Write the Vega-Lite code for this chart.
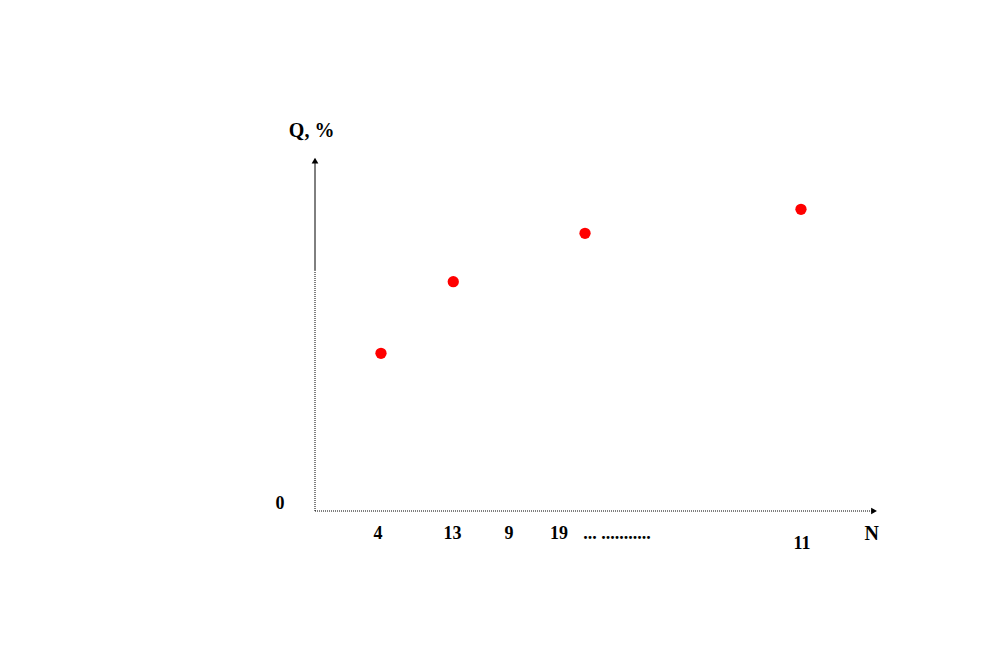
{
  "$schema": "https://vega.github.io/schema/vega-lite/v6.json",
  "width": 563,
  "height": 354,
  "autosize": {"type": "none"},
  "padding": {"left": 315, "top": 157, "right": 114, "bottom": 144},
  "background": "white",
  "config": {"view": {"stroke": null}},
  "datasets": {
    "points": [
      {"n": 11.72, "q": 44.55},
      {"n": 24.56, "q": 64.77},
      {"n": 47.96, "q": 78.45},
      {"n": 86.32, "q": 85.23}
    ],
    "xaxis": [{"x": 0, "x2": 99.2, "y": 0}],
    "yaxisSolid": [{"x": 0, "y": 68, "y2": 98.3}],
    "yaxisDotted": [{"x": 0, "y": 0, "y2": 68}],
    "arrows": [
      {"x": 99.3, "y": 0, "shape": "triangle-right"},
      {"x": 0, "y": 99.0, "shape": "triangle-up"}
    ],
    "ticklabels": [
      {"text": "4", "x": 11.19, "y": -6.4},
      {"text": "13", "x": 24.42, "y": -6.4},
      {"text": "9", "x": 34.46, "y": -6.4},
      {"text": "19", "x": 43.34, "y": -6.4},
      {"text": "... ...........", "x": 53.64, "y": -6.4},
      {"text": "11", "x": 86.5, "y": -9.2},
      {"text": "0", "x": -6.2, "y": 2.0}
    ],
    "titles": [
      {"text": "Q, %", "x": -0.6, "y": 107.3, "size": 20},
      {"text": "N", "x": 98.9, "y": -6.6, "size": 20}
    ]
  },
  "layer": [
    {
      "data": {"name": "xaxis"},
      "mark": {"type": "rule", "color": "black", "strokeWidth": 1, "strokeDash": [1, 1]},
      "encoding": {
        "x": {"field": "x", "type": "quantitative", "scale": {"domain": [0, 100]}, "axis": null},
        "x2": {"field": "x2"},
        "y": {"field": "y", "type": "quantitative", "scale": {"domain": [0, 100]}, "axis": null}
      }
    },
    {
      "data": {"name": "yaxisDotted"},
      "mark": {"type": "rule", "color": "black", "strokeWidth": 1, "strokeDash": [1, 1]},
      "encoding": {
        "x": {"field": "x", "type": "quantitative", "scale": {"domain": [0, 100]}, "axis": null},
        "y": {"field": "y", "type": "quantitative", "scale": {"domain": [0, 100]}, "axis": null},
        "y2": {"field": "y2"}
      }
    },
    {
      "data": {"name": "yaxisSolid"},
      "mark": {"type": "rule", "color": "black", "strokeWidth": 1},
      "encoding": {
        "x": {"field": "x", "type": "quantitative", "scale": {"domain": [0, 100]}, "axis": null},
        "y": {"field": "y", "type": "quantitative", "scale": {"domain": [0, 100]}, "axis": null},
        "y2": {"field": "y2"}
      }
    },
    {
      "data": {"name": "arrows"},
      "mark": {"type": "point", "filled": true, "color": "black", "size": 45, "opacity": 1},
      "encoding": {
        "x": {"field": "x", "type": "quantitative", "scale": {"domain": [0, 100]}, "axis": null},
        "y": {"field": "y", "type": "quantitative", "scale": {"domain": [0, 100]}, "axis": null},
        "shape": {"field": "shape", "type": "nominal", "scale": null, "legend": null}
      }
    },
    {
      "data": {"name": "points"},
      "mark": {"type": "circle", "color": "#FF0000", "size": 127, "opacity": 1},
      "encoding": {
        "x": {"field": "n", "type": "quantitative", "scale": {"domain": [0, 100]}, "axis": null},
        "y": {"field": "q", "type": "quantitative", "scale": {"domain": [0, 100]}, "axis": null}
      }
    },
    {
      "data": {"name": "ticklabels"},
      "mark": {"type": "text", "font": "Liberation Serif", "fontWeight": "bold", "fontSize": 18, "color": "black", "align": "center", "baseline": "middle"},
      "encoding": {
        "x": {"field": "x", "type": "quantitative", "scale": {"domain": [0, 100]}, "axis": null},
        "y": {"field": "y", "type": "quantitative", "scale": {"domain": [0, 100]}, "axis": null},
        "text": {"field": "text", "type": "nominal"}
      }
    },
    {
      "data": {"name": "titles"},
      "mark": {"type": "text", "font": "Liberation Serif", "fontWeight": "bold", "color": "black", "align": "center", "baseline": "middle"},
      "encoding": {
        "x": {"field": "x", "type": "quantitative", "scale": {"domain": [0, 100]}, "axis": null},
        "y": {"field": "y", "type": "quantitative", "scale": {"domain": [0, 100]}, "axis": null},
        "text": {"field": "text", "type": "nominal"},
        "size": {"field": "size", "type": "quantitative", "scale": null, "legend": null}
      }
    }
  ]
}
